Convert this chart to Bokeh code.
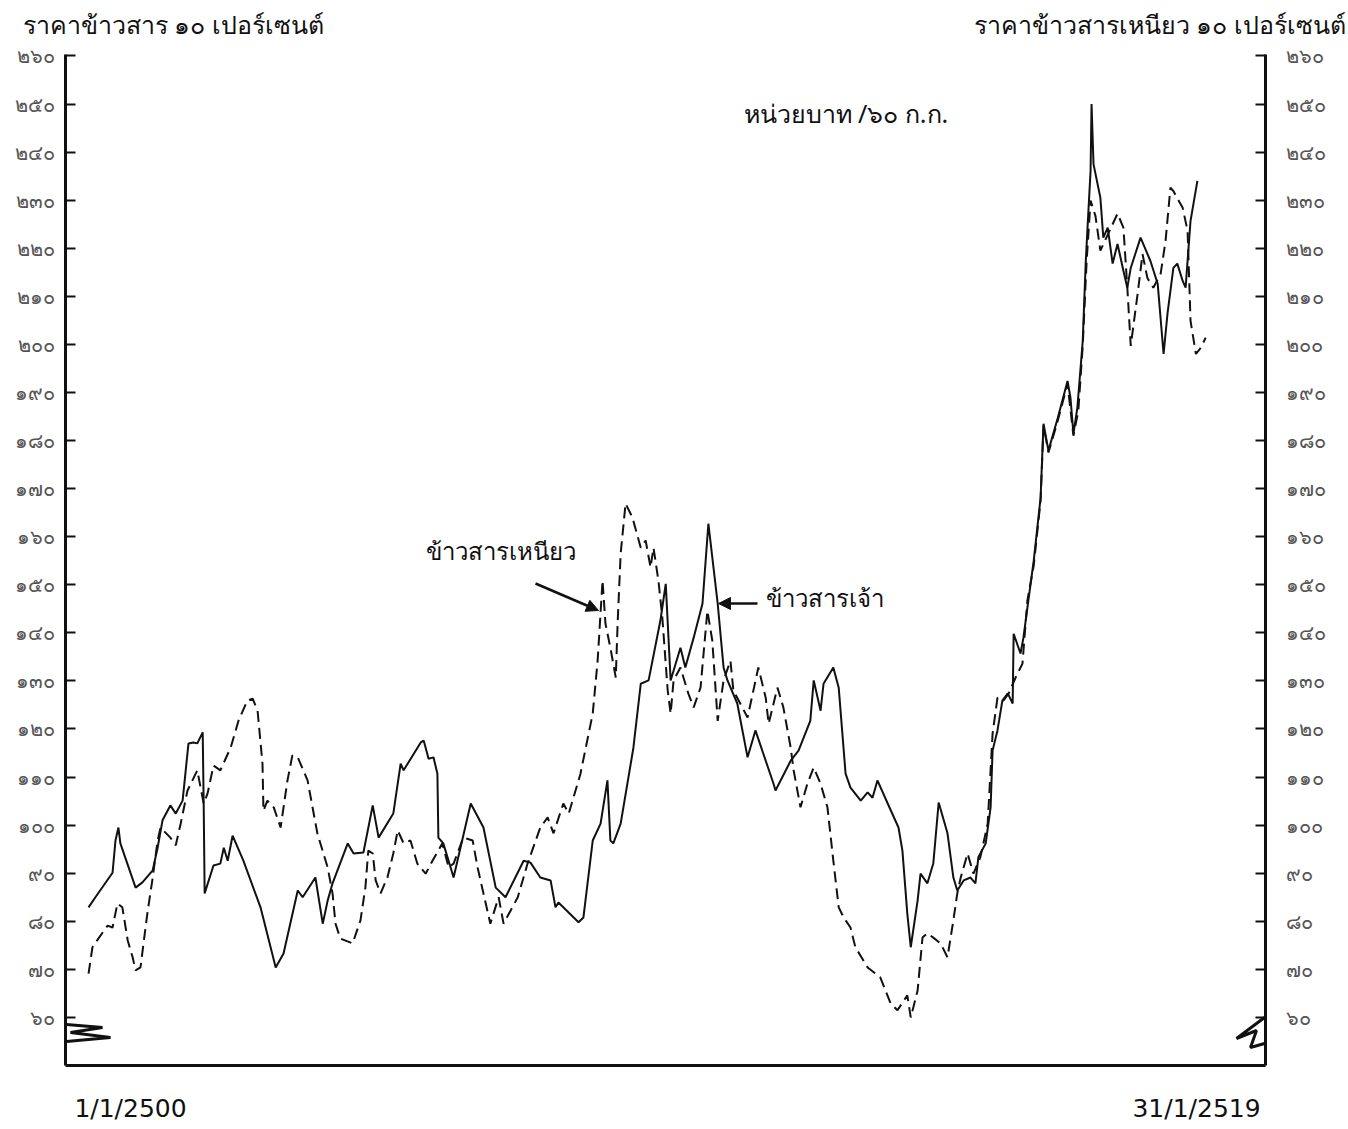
from bokeh.plotting import figure
from bokeh.models import LinearAxis, FixedTicker, Label, Arrow, NormalHead, Range1d
from bokeh.embed import file_html
from bokeh.resources import INLINE

# Months counted from 1/1/2500; prices in baht per 60 kg
white_month = [
    0, 1.4, 4.9, 5.5, 6.1, 6.5, 9.6, 11.0, 13.1, 14.1,
    15.1, 16.7, 17.8, 19.2, 20.4, 21.4, 22.2, 23.3, 23.5, 23.7,
    25.5, 26.9, 27.6, 28.4, 29.4, 31.6, 35.1, 38.2, 39.8, 42.7,
    43.7, 46.3, 47.8, 48.8, 49.8, 52.9, 54.1, 56.1, 58.0, 59.2,
    62.2, 63.7, 64.3, 67.8, 68.4, 69.4, 70.4, 71.2, 71.4, 72.4,
    73.9, 74.5, 78.0, 80.6, 83.1, 85.1, 88.8, 90.2, 92.2, 94.3,
    95.3, 95.9, 100.0, 101.0, 102.9, 104.5, 105.9, 106.5, 107.1, 108.6,
    111.2, 112.7, 114.3, 116.7, 117.8, 118.8, 120.8, 121.8, 123.5, 125.3,
    126.5, 128.4, 129.6, 130.4, 132.4, 134.5, 136.1, 139.8, 140.2, 143.3,
    144.9, 147.3, 148.0, 149.4, 150.0, 152.0, 153.1, 154.5, 155.5, 157.6,
    159.0, 160.0, 161.0, 163.1, 165.3, 166.1, 167.1, 167.8, 169.2, 169.8,
    171.2, 172.4, 173.5, 175.3, 176.5, 177.3, 178.6, 180.0, 181.0, 181.6,
    183.1, 184.1, 184.5, 185.5, 186.5, 187.6, 188.6, 188.8, 190.2, 190.8,
    191.8, 192.9, 194.3, 194.7, 194.9, 195.9, 197.8, 199.8, 200.4, 201.0,
    201.8, 202.9, 203.5, 203.9, 204.5, 204.7, 205.1, 206.5, 207.1, 208.0,
    209.0, 210.0, 211.2, 212.0, 212.7, 214.7, 216.7, 218.2, 219.4, 220.2,
    221.4, 222.2, 223.3, 223.9, 224.9, 226.3,
]
white_price = [
    82.9, 85.0, 90.1, 96.8, 99.5, 96.2, 87.0, 88.1, 90.6, 95.3,
    101.0, 104.1, 102.4, 105.1, 117.0, 117.2, 117.0, 119.3, 104.5, 85.8,
    91.6, 92.0, 95.3, 92.6, 97.8, 92.6, 82.9, 70.4, 73.3, 86.4,
    85.0, 89.1, 79.5, 84.3, 87.9, 96.2, 94.1, 94.3, 104.1, 97.4,
    102.4, 112.8, 111.4, 117.2, 117.6, 113.8, 114.1, 110.7, 97.4, 96.2,
    91.2, 89.1, 104.5, 99.5, 87.0, 85.0, 92.6, 92.2, 89.1, 88.5,
    82.9, 83.9, 79.8, 80.8, 96.8, 100.3, 109.3, 96.8, 96.2, 100.3,
    116.1, 129.4, 130.1, 142.5, 150.2, 130.1, 136.9, 132.8, 139.0, 146.1,
    162.7, 146.1, 132.8, 130.1, 125.3, 114.1, 119.7, 108.6, 107.2, 113.4,
    115.5, 121.7, 130.1, 123.8, 129.4, 132.8, 128.6, 110.7, 107.8, 105.1,
    106.8, 105.7, 109.3, 104.5, 99.5, 94.7, 81.6, 74.6, 84.3, 89.9,
    87.9, 92.0, 104.7, 98.3, 89.1, 86.4, 88.5, 89.1, 87.9, 93.3,
    96.2, 103.7, 115.5, 119.7, 125.9, 127.4, 125.3, 139.8, 135.7, 139.0,
    146.7, 155.0, 168.1, 178.5, 183.5, 177.9, 184.7, 192.4, 188.9, 181.4,
    186.8, 200.7, 216.8, 224.7, 236.1, 250.0, 237.5, 230.5, 222.2, 224.3,
    216.8, 220.9, 215.3, 211.8, 215.9, 222.2, 217.4, 212.6, 198.0, 206.4,
    215.9, 216.8, 213.2, 211.8, 225.7, 234.0,
]

glut_month = [
    0, 0.8, 2.0, 3.9, 4.9, 5.9, 6.9, 8.0, 9.0, 9.6,
    10.6, 12.0, 13.1, 14.1, 14.7, 16.7, 17.8, 18.8, 20.2, 22.2,
    23.5, 24.3, 25.5, 26.9, 29.0, 30.6, 32.4, 33.5, 34.5, 35.5,
    35.7, 36.5, 37.8, 39.2, 40.6, 41.6, 42.7, 44.7, 46.7, 48.8,
    49.8, 50.4, 51.4, 53.9, 55.5, 56.5, 57.1, 58.0, 58.6, 59.6,
    61.0, 62.2, 63.1, 64.3, 65.7, 67.1, 68.8, 70.2, 72.2, 73.5,
    74.5, 76.5, 78.4, 79.4, 82.0, 83.7, 84.7, 87.6, 89.6, 92.2,
    93.7, 94.9, 96.9, 98.0, 100.4, 102.9, 103.9, 104.9, 105.5, 106.5,
    107.6, 108.0, 108.6, 109.6, 111.0, 112.7, 113.7, 114.7, 115.3, 116.3,
    117.1, 118.2, 118.8, 119.4, 120.8, 122.4, 123.5, 124.9, 126.3, 127.3,
    128.4, 129.6, 131.0, 131.6, 134.5, 136.7, 138.2, 138.8, 140.6, 141.8,
    143.3, 143.9, 145.3, 146.7, 148.0, 149.4, 150.8, 152.0, 153.1, 154.1,
    155.5, 156.5, 159.0, 161.6, 163.7, 165.1, 167.1, 167.8, 169.2, 170.2,
    171.2, 172.4, 173.9, 175.3, 176.5, 177.3, 178.0, 179.4, 180.6, 182.0,
    183.5, 184.5, 185.5, 186.7, 187.8, 189.2, 190.6, 191.6, 192.9, 194.3,
    194.9, 195.9, 197.8, 199.8, 201.0, 202.0, 202.9, 203.7, 204.5, 205.5,
    206.5, 210.0, 211.2, 212.0, 212.7, 214.1, 215.1, 216.1, 217.3, 218.8,
    219.8, 220.8, 221.4, 223.3, 224.3, 224.9, 226.0, 227.0, 228.0,
]
glut_price = [
    69.1, 74.6, 76.4, 79.1, 78.7, 83.7, 82.9, 76.0, 72.5, 69.8,
    70.4, 81.6, 89.1, 96.8, 99.5, 97.4, 95.8, 100.3, 107.2, 111.4,
    104.5, 106.6, 112.4, 111.4, 116.1, 121.7, 125.9, 126.3, 123.8, 112.8,
    103.0, 105.1, 103.7, 99.5, 109.3, 114.5, 114.1, 109.3, 98.3, 91.2,
    85.8, 79.5, 76.4, 75.4, 80.2, 87.0, 94.7, 94.1, 88.5, 85.8,
    89.1, 94.1, 98.9, 96.2, 96.8, 92.0, 89.9, 92.6, 96.2, 91.2,
    92.0, 97.4, 96.8, 91.2, 79.5, 85.0, 79.5, 85.0, 92.0, 99.5,
    101.6, 98.3, 104.5, 102.4, 110.7, 123.2, 134.2, 150.9, 141.9, 136.9,
    130.7, 142.5, 156.5, 166.9, 164.0, 157.7, 159.2, 153.6, 157.7, 150.9,
    143.2, 128.0, 123.2, 130.1, 132.8, 127.4, 124.5, 128.6, 144.6, 138.4,
    121.7, 130.1, 134.2, 128.0, 122.4, 132.8, 126.5, 121.1, 128.6, 124.5,
    116.1, 111.4, 103.7, 108.6, 112.0, 108.6, 103.7, 92.6, 82.9, 80.8,
    78.7, 74.6, 70.4, 68.3, 62.9, 61.5, 64.6, 60.0, 65.6, 76.6,
    77.5, 76.6, 75.4, 72.5, 80.2, 85.8, 89.1, 94.1, 89.9, 93.3,
    100.3, 119.0, 126.5, 125.9, 127.4, 130.7, 133.6, 146.7, 154.0, 167.5,
    183.1, 177.5, 184.1, 191.8, 181.0, 186.2, 199.7, 217.4, 229.9, 226.7,
    219.5, 227.2, 224.3, 211.8, 199.7, 210.5, 218.8, 213.8, 211.8, 214.7,
    221.5, 232.6, 231.9, 228.4, 223.6, 204.9, 198.0, 199.3, 201.4,
]

price_ticks = [60, 70, 80, 90, 100, 110, 120, 130, 140, 150, 160,
               170, 180, 190, 200, 210, 220, 230, 240, 250, 260]
price_tick_labels = ["๖๐", "๗๐", "๘๐", "๙๐", "๑๐๐", "๑๑๐", "๑๒๐", "๑๓๐", "๑๔๐",
                     "๑๕๐", "๑๖๐", "๑๗๐", "๑๘๐", "๑๙๐", "๒๐๐", "๒๑๐", "๒๒๐",
                     "๒๓๐", "๒๔๐", "๒๕๐", "๒๖๐"]
date_labels = ["1/1/2500", "31/1/2519"]

left_title = "ราคาข้าวสาร ๑๐ เปอร์เซนต์"
right_title = "ราคาข้าวสารเหนียว ๑๐ เปอร์เซนต์"
unit_text = "หน่วยบาท /๖๐ ก.ก."
glut_name = "ข้าวสารเหนียว"
white_name = "ข้าวสารเจ้า"

W, H = 1348, 1125
LEFT, RIGHT, TOP, BOTTOM = 65, 1265, 54, 1065
X0, X1 = -4.7, 240.2
Y0, Y1 = 50.0, 260.3
THAI = "Noto Sans"
INK = "#111111"
TITLE_CENTERS_PX = (173, 1159)   # horizontal centres of the two axis titles
DATE_CENTERS_PX = (130, 1196)    # horizontal centres of the two date captions


def at(px, py):
    """Page pixel position -> data position, for placing annotations."""
    x = X0 + (px - LEFT) * (X1 - X0) / (RIGHT - LEFT)
    y = Y1 - (py - TOP) * (Y1 - Y0) / (BOTTOM - TOP)
    return x, y


p = figure(width=W, height=H, output_backend="svg", toolbar_location=None,
           x_range=Range1d(X0, X1), y_range=Range1d(Y0, Y1),
           min_border_left=LEFT, min_border_right=W - RIGHT,
           min_border_top=TOP, min_border_bottom=H - BOTTOM)
p.grid.visible = False
p.outline_line_color = None
p.background_fill_color = "white"
p.border_fill_color = "white"

# bottom axis: the line, with the first and last dates written beneath it
date_ticks = [round(at(px, 0)[0], 2) for px in DATE_CENTERS_PX]
xa = p.xaxis[0]
xa.ticker = FixedTicker(ticks=date_ticks)
xa.major_label_overrides = dict(zip(date_ticks, date_labels))
xa.axis_line_width = 3
xa.axis_line_color = INK
xa.major_tick_line_color = None
xa.minor_tick_line_color = None
xa.major_tick_out = 0
xa.major_tick_in = 0
xa.major_label_standoff = 28
xa.major_label_text_font = "DejaVu Sans"
xa.major_label_text_font_size = "25px"
xa.major_label_text_color = INK

# top: the two axis titles, one over each price scale
title_ticks = [round(at(px, 0)[0], 2) for px in TITLE_CENTERS_PX]
top_axis = LinearAxis(ticker=FixedTicker(ticks=title_ticks),
                      major_label_overrides=dict(zip(title_ticks, [left_title, right_title])))
top_axis.axis_line_color = None
top_axis.major_tick_line_color = None
top_axis.minor_tick_line_color = None
top_axis.major_tick_out = 0
top_axis.major_tick_in = 0
top_axis.major_label_standoff = 14
top_axis.major_label_text_font = THAI
top_axis.major_label_text_font_size = "25px"
top_axis.major_label_text_color = INK
p.add_layout(top_axis, "above")

overrides = {t: lab for t, lab in zip(price_ticks, price_tick_labels)}


def style_price_axis(ax, standoff):
    ax.ticker = FixedTicker(ticks=price_ticks)
    ax.major_label_overrides = overrides
    ax.axis_line_width = 3
    ax.axis_line_color = INK
    ax.major_tick_in = 10
    ax.major_tick_out = 0
    ax.major_tick_line_width = 2
    ax.major_tick_line_color = INK
    ax.minor_tick_line_color = None
    ax.major_label_text_font = THAI
    ax.major_label_text_font_size = "20px"
    ax.major_label_text_font_style = "normal"
    ax.major_label_text_color = "#555555"
    ax.major_label_standoff = standoff


style_price_axis(p.yaxis[0], 11)
right_axis = LinearAxis()
style_price_axis(right_axis, 20)
p.add_layout(right_axis, "right")

# price series
p.line(white_month, white_price, line_color=INK, line_width=2)
p.line(glut_month, glut_price, line_color=INK, line_width=2, line_dash="11 6")

# axis-break marks near the foot of both price axes
bl = [at(66, 1024), at(102, 1027), at(70, 1032), at(110, 1037), at(66, 1041)]
br = [at(1264, 1017), at(1236, 1038), at(1256, 1030), at(1250, 1047), at(1264, 1043)]
for pts in (bl, br):
    p.line([q[0] for q in pts], [q[1] for q in pts], line_color=INK, line_width=3)


def label(px, py, text, size, align="left", font=THAI):
    x, y = at(px, py)
    p.add_layout(Label(x=x, y=y, text=text, text_font=font, text_font_size=size,
                       text_align=align, text_baseline="middle", text_color=INK))


label(743, 112, unit_text, "25px")
label(500, 550, glut_name, "24px", align="center")
label(765, 597, white_name, "24px")

# pointers from the series names to their lines
for (sx, sy), (ex, ey) in [((535, 583), (598, 610)), ((757, 603), (718, 603))]:
    xs, ys = at(sx, sy)
    xe, ye = at(ex, ey)
    p.add_layout(Arrow(x_start=xs, y_start=ys, x_end=xe, y_end=ye, line_width=2.5,
                       line_color=INK,
                       end=NormalHead(size=12, fill_color=INK, line_color=INK)))

open("out.html", "w").write(file_html(p, INLINE))
